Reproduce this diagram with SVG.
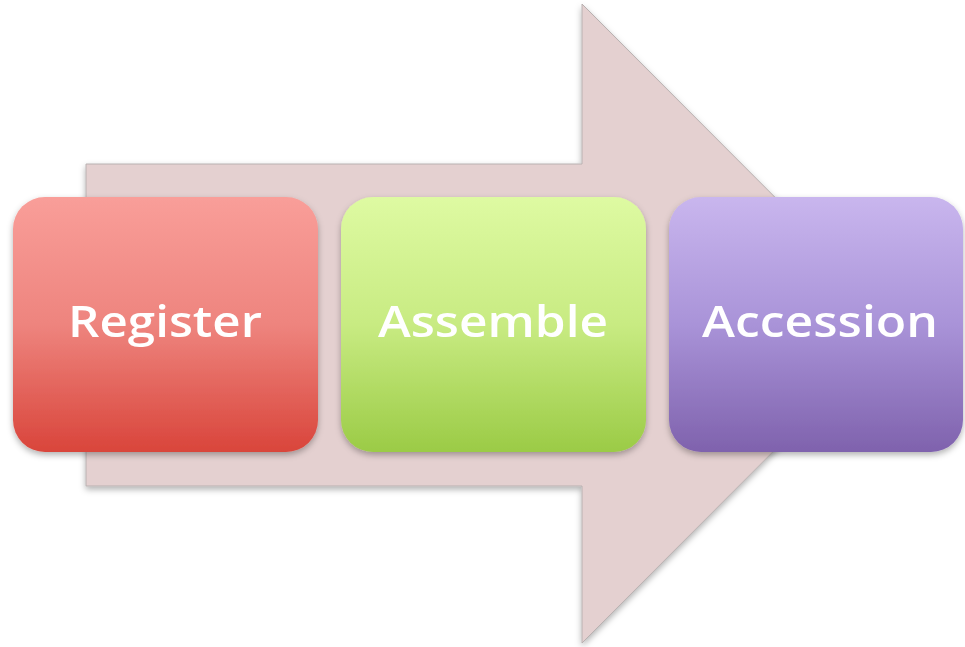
<svg xmlns="http://www.w3.org/2000/svg" width="965" height="647" viewBox="0 0 965 647">
<style>
.lbl{font-family:"Open Sans","Liberation Sans",sans-serif;font-size:44px;font-weight:600;fill:#ffffff;text-anchor:middle}
.box{filter:url(#sh)}
</style>
<defs>
<linearGradient id="gr" x1="0" y1="0" x2="0" y2="1"><stop offset="0" stop-color="#F99E99"/><stop offset="0.5" stop-color="#EE847E"/><stop offset="1" stop-color="#D9453B"/></linearGradient>
<linearGradient id="gg" x1="0" y1="0" x2="0" y2="1"><stop offset="0" stop-color="#DEFAA2"/><stop offset="0.5" stop-color="#C8EB82"/><stop offset="1" stop-color="#9BCB46"/></linearGradient>
<linearGradient id="gp" x1="0" y1="0" x2="0" y2="1"><stop offset="0" stop-color="#C9B6EE"/><stop offset="0.5" stop-color="#A993D8"/><stop offset="1" stop-color="#7F62AD"/></linearGradient>
<filter id="sh" x="-10%" y="-10%" width="120%" height="125%"><feDropShadow dx="0" dy="3" stdDeviation="3" flood-color="#000" flood-opacity="0.3"/></filter>
</defs>
<g id="arrow" filter="url(#sh)">
<path d="M86 164 H582 V4 L901 323.5 L582 643 V486 H86 Z" fill="#E4D0D0" stroke="#B8B0B0" stroke-width="1"/>
</g>
<g id="register" class="box">
<rect x="13" y="197" width="305" height="255" rx="32" fill="url(#gr)"/>
<text class="lbl" x="165" y="337" textLength="194" lengthAdjust="spacingAndGlyphs">Register</text>
</g>
<g id="assemble" class="box">
<rect x="341" y="197" width="305" height="255" rx="32" fill="url(#gg)"/>
<text class="lbl" x="493" y="337" textLength="230" lengthAdjust="spacingAndGlyphs">Assemble</text>
</g>
<g id="accession" class="box">
<rect x="669" y="197" width="294" height="255" rx="32" fill="url(#gp)"/>
<text class="lbl" x="820" y="337" textLength="236" lengthAdjust="spacingAndGlyphs">Accession</text>
</g>
<g id="connectors"/>
</svg>
